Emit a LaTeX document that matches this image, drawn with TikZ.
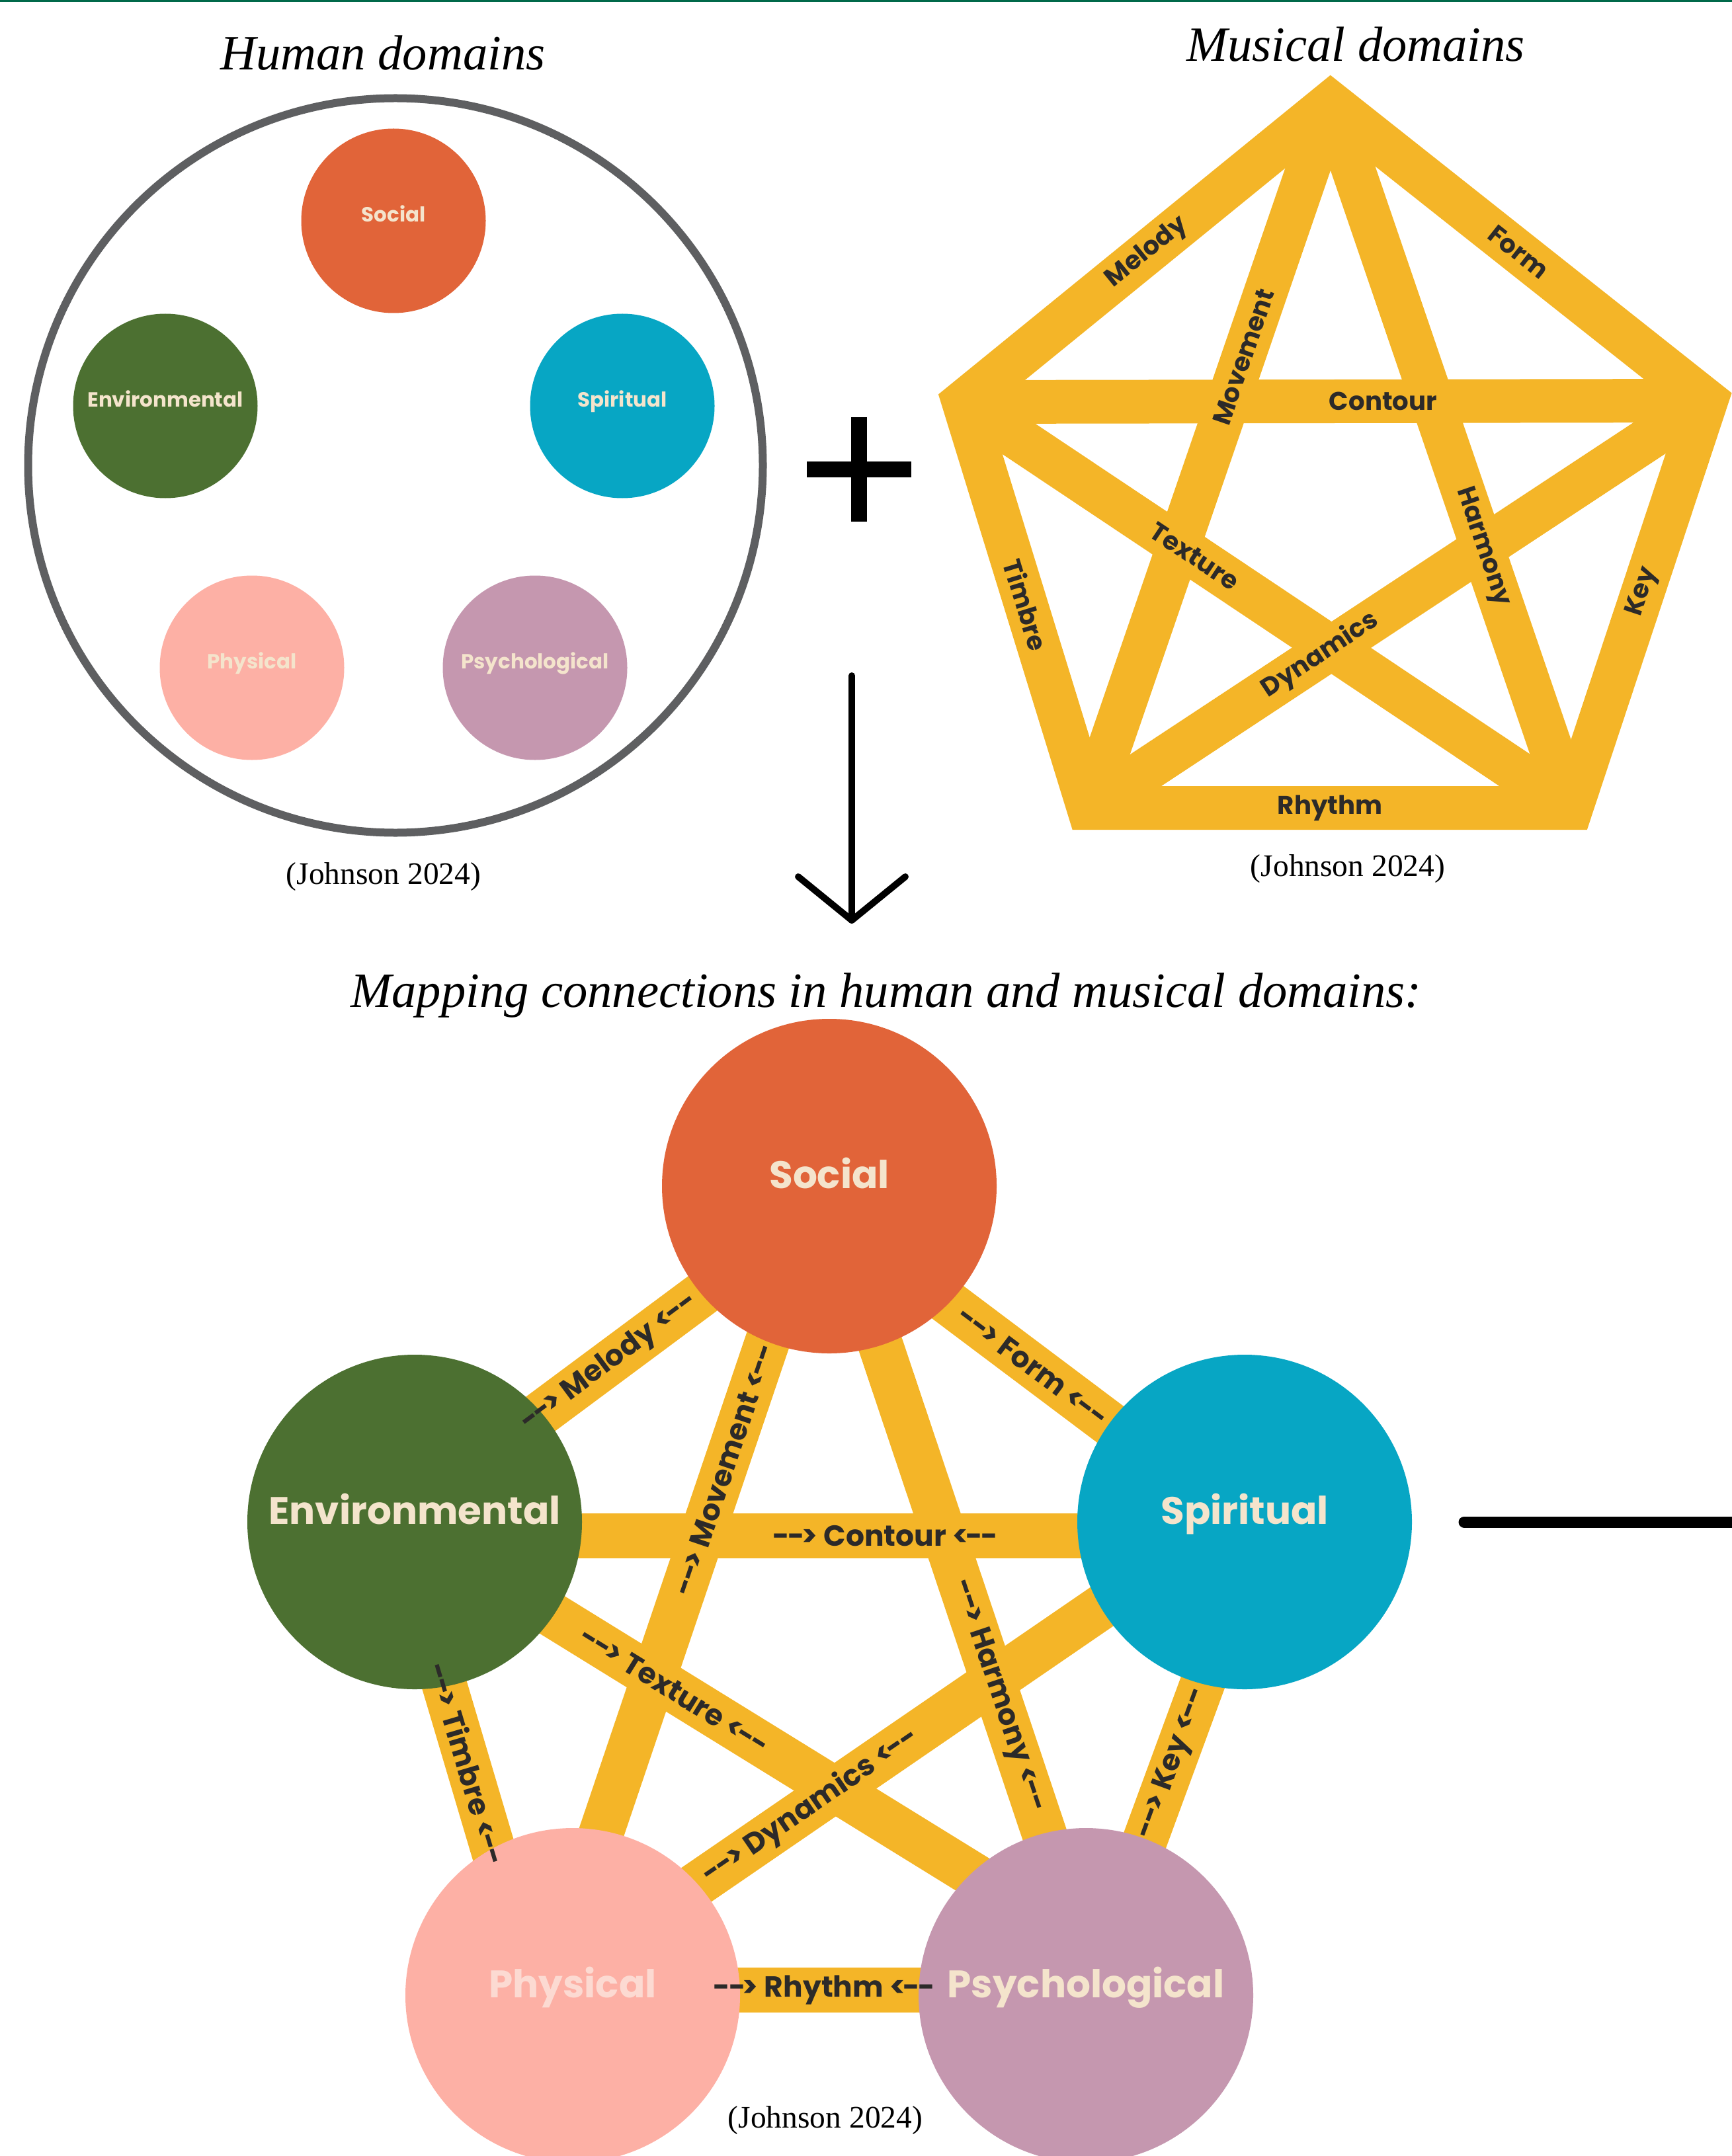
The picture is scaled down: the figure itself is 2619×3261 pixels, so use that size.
\documentclass[tikz,border=0pt]{standalone}
\usepackage{fontspec}
\setmainfont{Liberation Serif}
\newfontfamily\gothamfont{Poppins}
\usetikzlibrary{backgrounds}

\newdimen\px
\px=0.01cm

\definecolor{topgreen}{HTML}{00694A}
\definecolor{ringgrey}{HTML}{5E5F61}
\definecolor{bandyellow}{HTML}{F4B528}
\definecolor{labgrey}{HTML}{2C2A29}
\definecolor{cream}{HTML}{F4E4CC}
\definecolor{physlab}{HTML}{FCDAD2}
\definecolor{socialc}{HTML}{E16439}
\definecolor{envc}{HTML}{4C7031}
\definecolor{spiritc}{HTML}{07A6C4}
\definecolor{physc}{HTML}{FDB0A5}
\definecolor{psychc}{HTML}{C597AF}

\newcommand{\toarr}{-\kern-0.6pt-\kern-1.3pt>}
\newcommand{\fromarr}{<\kern-1.3pt-\kern-0.6pt-}

\tikzset{
  heading/.style={anchor=base, inner sep=0pt, font=\itshape\fontsize{21.2}{25}\selectfont},
  cite/.style={anchor=base, inner sep=0pt, font=\fontsize{13.5}{16}\selectfont},
  band/.style={draw=bandyellow, line width=68\px},
  hdom/.style={circle, inner sep=0pt, minimum size=279\px, text=cream,
    font=\gothamfont\bfseries\fontsize{8.8}{10}\selectfont,
    text height=6.2pt, text depth=5.4pt},
  mdom/.style={circle, inner sep=0pt, minimum size=506\px, text=cream,
    font=\gothamfont\bfseries\fontsize{16.5}{19}\selectfont,
    text height=11.6pt, text depth=9.4pt},
  mlab/.style={sloped, inner sep=0pt, text=labgrey,
    font=\gothamfont\bfseries\fontsize{11}{13}\selectfont},
  clab/.style={sloped, inner sep=0pt, text=labgrey,
    font=\gothamfont\bfseries\fontsize{12.5}{14}\selectfont},
}

\begin{document}
\begin{tikzpicture}[x=0.01cm, y=-0.01cm]
  \useasboundingbox (0,0) rectangle (2619,3261);
  \fill[topgreen] (0,0) rectangle (2619,3);

  % human domains
  \node[heading] (htitle) at (579,106) {Human domains};
  \node[circle, draw=ringgrey, line width=12\px, minimum size=1111\px, inner sep=0pt] (ring) at (598,704) {};
  \node[hdom, fill=socialc]  (hsoc) at (595,334)  {Social};
  \node[hdom, fill=envc]     (henv) at (250,614)  {Environmental};
  \node[hdom, fill=spiritc]  (hspi) at (941,614)  {Spiritual};
  \node[hdom, fill=physc]    (hphy) at (381,1010) {Physical};
  \node[hdom, fill=psychc]   (hpsy) at (809,1010) {Psychological};
  \node[cite] (hcite) at (580,1337) {(Johnson 2024)};

  % plus sign and down arrow
  \draw[line width=23.5\px] (1220,710) -- (1378,710);
  \draw[line width=23.5\px] (1299,631) -- (1299,789);
  \coordinate (atop) at (1288,1022);
  \coordinate (atip) at (1288,1392);
  \draw[line width=10\px, line cap=round] (atop) -- (atip);
  \draw[line width=10\px, line cap=round, line join=round] (1207,1326) -- (atip) -- (1369,1326);

  % musical domains
  \node[heading] (mtitle) at (2050,93) {Musical domains};
  \coordinate (mT)  at (2012,156);
  \coordinate (mL)  at (1457,608);
  \coordinate (mR)  at (2580,606);
  \coordinate (mBL) at (1646,1222);
  \coordinate (mBR) at (2376,1222);
  \begin{scope}[band/.append style={line width=66\px}]
    \draw[band, line join=miter] (mT) -- (mR) -- (mBR) -- (mBL) -- (mL) -- cycle;
    \draw[band] (mL) -- (mR);
    \draw[band] (mL) -- (mBR);
    \draw[band] (mT) -- (mBL);
    \draw[band] (mT) -- (mBR);
    \draw[band] (mBL) -- (mR);
  \end{scope}
  \begin{scope}[every node/.style={mlab}]
    \path (mL)  -- node           {Melody}   (mT);
    \path (mT)  -- node           {Form}     (mR);
    \path (mBL) -- node[pos=.64]  {Movement} (mT);
    \path (mL)  -- node[pos=.565] {Contour}  (mR);
    \path (mT)  -- node[pos=.63]  {Harmony}  (mBR);
    \path (mL)  -- node[pos=.38]  {Texture}  (mBR);
    \path (mBL) -- node[pos=.375] {Dynamics} (mR);
    \path (mL)  -- node           {Timbre}   (mBL);
    \path (mBR) -- node[pos=.53]  {Key}      (mR);
    \path (mBL) -- node           {Rhythm}   (mBR);
  \end{scope}
  \node[cite] (mcite) at (2038,1325) {(Johnson 2024)};

  % mapping
  \node[heading] (maptitle) at (1340,1523) {Mapping connections in human and musical domains:};
  \node[mdom, fill=socialc]  (soc) at (1254,1794) {Social};
  \node[mdom, fill=envc]     (env) at (627,2302)  {Environmental};
  \node[mdom, fill=spiritc]  (spi) at (1882,2302) {Spiritual};
  \node[mdom, fill=physc, text=physlab] (phy) at (866,3018) {Physical};
  \node[mdom, fill=psychc]   (psy) at (1642,3018) {Psychological};

  \begin{scope}[on background layer]
    \draw[band] ([shift={(0,-22)}]env.center) -- ([shift={(0,20)}]soc.center);
    \draw[band] ([shift={(0,41)}]soc.center)  -- ([shift={(0,5)}]spi.center);
    \draw[band] ([shift={(-40,0)}]phy.center) -- ([shift={(-14,0)}]soc.center);
    \draw[band] ([shift={(-3,0)}]soc.center)  -- ([shift={(19,0)}]psy.center);
    \draw[band] ([shift={(0,21)}]env.center)  -- ([shift={(0,21)}]spi.center);
    \draw[band] ([shift={(0,12)}]env.center)  -- ([shift={(0,-77)}]psy.center);
    \draw[band] ([shift={(0,-39)}]phy.center) -- ([shift={(0,-20)}]spi.center);
    \draw[band] ([shift={(-28,0)}]env.center) -- ([shift={(-55,0)}]phy.center);
    \draw[band] ([shift={(3,0)}]psy.center)   -- ([shift={(26,0)}]spi.center);
    \draw[band] ([shift={(0,-8)}]phy.center)  -- ([shift={(0,-8)}]psy.center);
  \end{scope}
  \begin{scope}[every node/.style={clab}]
    \path ([shift={(0,-22)}]env.center) -- node[pos=.47]  {\toarr\ Melody \fromarr}   ([shift={(0,20)}]soc.center);
    \path ([shift={(0,41)}]soc.center)  -- node[pos=.49]  {\toarr\ Form \fromarr}     ([shift={(0,5)}]spi.center);
    \path ([shift={(-40,0)}]phy.center) -- node[pos=.65]  {\toarr\ Movement \fromarr} ([shift={(-14,0)}]soc.center);
    \path ([shift={(-3,0)}]soc.center)  -- node[pos=.63]  {\toarr\ Harmony \fromarr}  ([shift={(19,0)}]psy.center);
    \path ([shift={(0,21)}]env.center)  -- node[pos=.567] {\toarr\ Contour \fromarr}  ([shift={(0,21)}]spi.center);
    \path ([shift={(0,12)}]env.center)  -- node[pos=.387] {\toarr\ Texture \fromarr}  ([shift={(0,-77)}]psy.center);
    \path ([shift={(0,-39)}]phy.center) -- node[pos=.354] {\toarr\ Dynamics \fromarr} ([shift={(0,-20)}]spi.center);
    \path ([shift={(-28,0)}]env.center) -- node[pos=.51]  {\toarr\ Timbre \fromarr}   ([shift={(-55,0)}]phy.center);
    \path ([shift={(3,0)}]psy.center)   -- node[pos=.49]  {\toarr\ Key \fromarr}      ([shift={(26,0)}]spi.center);
    \path ([shift={(0,-8)}]phy.center)  -- node[pos=.49]  {\toarr\ Rhythm \fromarr}   ([shift={(0,-8)}]psy.center);
  \end{scope}
  \node[cite] (bcite) at (1248,3218) {(Johnson 2024)};

  % line towards the right edge
  \coordinate (rlineA) at (2214,2302);
  \coordinate (rlineB) at (2640,2302);
  \draw[line width=17\px, line cap=round] (rlineA) -- (rlineB);
\end{tikzpicture}
\end{document}
